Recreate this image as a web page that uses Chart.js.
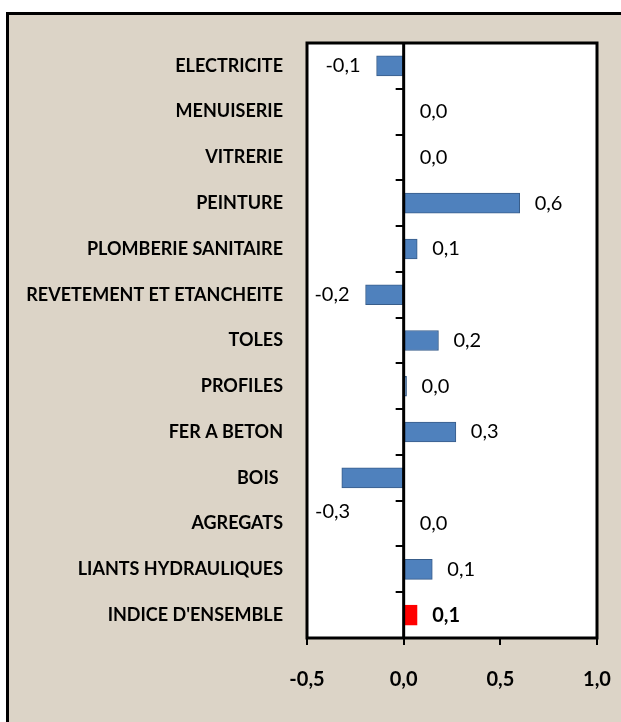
<!DOCTYPE html>
<html lang="fr">
<head>
<meta charset="UTF-8">
<title>Variation des prix des matériaux de construction</title>
<script src="https://cdn.jsdelivr.net/npm/chart.js"></script>
<style>
    body {
        margin: 0;
        background: #fff;
        overflow: hidden;
    }
    /* cadre beige du graphique, coupé à droite et en bas */
    .frame {
        position: absolute;
        left: 6px;
        top: 12px;
        width: 700px;
        height: 800px;
        border: 3px solid #000;
        background: #dcd4c7;
    }
    #wrap {
        position: absolute;
        left: 0;
        top: 0;
        width: 621px;
        height: 722px;
    }
</style>
</head>
<body>
<div class="frame"></div>
<div id="wrap"><canvas id="chart" width="621" height="722"></canvas></div>

<script>
// Données
const categories = [
    'ELECTRICITE', 'MENUISERIE', 'VITRERIE', 'PEINTURE', 'PLOMBERIE SANITAIRE',
    'REVETEMENT ET ETANCHEITE', 'TOLES', 'PROFILES', 'FER A BETON', 'BOIS ',
    'AGREGATS', 'LIANTS HYDRAULIQUES', "INDICE D'ENSEMBLE"
];
const variations = [-0.14, 0, 0, 0.6, 0.07, -0.197, 0.18, 0.015, 0.27, -0.32, 0, 0.148, 0.07];
const xMin = -0.5;
const xMax = 1.0;
const xStep = 0.5;

const fmt = v => v.toFixed(1).replace('.', ',');

// fond blanc + bordure noire de la zone de tracé
const plotFrame = {
    id: 'plotFrame',
    beforeDraw(chart) {
        const a = chart.chartArea, ctx = chart.ctx;
        ctx.save();
        ctx.fillStyle = '#fff';
        ctx.fillRect(a.left, a.top, a.right - a.left, a.bottom - a.top);
        ctx.restore();
    },
    afterDraw(chart) {
        const a = chart.chartArea, ctx = chart.ctx;
        ctx.save();
        ctx.strokeStyle = '#000';
        ctx.lineWidth = 3;
        ctx.strokeRect(a.left, a.top, a.right - a.left, a.bottom - a.top);
        ctx.restore();
    }
};

// axe vertical sur le zéro, avec graduations entre les catégories
const zeroAxis = {
    id: 'zeroAxis',
    afterDatasetsDraw(chart) {
        const ctx = chart.ctx, a = chart.chartArea;
        const x0 = chart.scales.x.getPixelForValue(0);
        const y = chart.scales.y;
        const half = (y.getPixelForValue(1) - y.getPixelForValue(0)) / 2;
        ctx.save();
        ctx.strokeStyle = '#000';
        ctx.lineWidth = 2;
        ctx.beginPath();
        for (let i = 1; i < categories.length; i++) {
            const py = Math.round(y.getPixelForValue(i) - half);
            ctx.moveTo(x0 - 8, py);
            ctx.lineTo(x0, py);
        }
        ctx.stroke();
        ctx.lineWidth = 3;
        ctx.beginPath();
        ctx.moveTo(x0, a.top);
        ctx.lineTo(x0, a.bottom);
        ctx.stroke();
        ctx.restore();
    }
};

// étiquettes de valeurs (extrémité extérieure des barres)
const valueLabels = {
    id: 'valueLabels',
    afterDatasetsDraw(chart) {
        const ctx = chart.ctx, area = chart.chartArea;
        const meta = chart.getDatasetMeta(0);
        const yScale = chart.scales.y;
        const step = yScale.getPixelForValue(1) - yScale.getPixelForValue(0);
        ctx.save();
        ctx.fillStyle = '#000';
        ctx.textBaseline = 'middle';
        meta.data.forEach((bar, i) => {
            const v = variations[i];
            const txt = fmt(v);
            const last = i === variations.length - 1;
            ctx.font = (last ? 'bold ' : '') + '20px Lato';
            let x = bar.x, y = bar.y;
            if (v >= 0) {
                ctx.textAlign = 'left';
                x = Math.max(x, bar.base + 1) + 15;
            } else {
                ctx.textAlign = 'right';
                x -= 16;
                // pas assez de place : sous la barre
                if (x - ctx.measureText(txt).width < area.left) {
                    ctx.textAlign = 'left';
                    x = area.left + 8;
                    y += step * 0.74;
                }
            }
            ctx.fillText(txt, x, y);
        });
        ctx.restore();
    }
};

function drawChart() {
    Chart.defaults.color = '#000';
    Chart.defaults.font.family = 'Lato';

    new Chart(document.getElementById('chart'), {
        type: 'bar',
        data: {
            labels: categories,
            datasets: [{
                data: variations,
                backgroundColor: categories.map((c, i) => i === categories.length - 1 ? '#ff0000' : '#4f81bd'),
                borderColor: categories.map((c, i) => i === categories.length - 1 ? '#ff0000' : '#385d8a'),
                borderWidth: 1,
                borderSkipped: false,
                barThickness: 20
            }]
        },
        options: {
            indexAxis: 'y',
            responsive: false,
            animation: false,
            layout: { padding: { top: 43, right: 24, left: 0, bottom: 0 } },
            plugins: {
                legend: { display: false },
                tooltip: { enabled: false }
            },
            scales: {
                x: {
                    type: 'linear',
                    position: 'bottom',
                    min: xMin,
                    max: xMax,
                    ticks: {
                        stepSize: xStep,
                        padding: 23,
                        font: { family: 'Lato', weight: 'bold', size: 20 },
                        callback: v => fmt(v)
                    },
                    grid: { drawOnChartArea: false, color: '#000', lineWidth: 2, tickLength: 7 },
                    border: { display: false },
                    afterFit: s => {
                        s.height = 84;
                        s.paddingRight = 0; // le libellé "1,0" déborde, comme l'original
                    }
                },
                y: {
                    type: 'category',
                    position: 'left',
                    grid: { display: false, drawTicks: false },
                    border: { display: false },
                    ticks: {
                        autoSkip: false,
                        padding: 24,
                        font: { family: 'Lato', weight: 'bold', size: 18 }
                    },
                    afterFit: s => { s.width = 307; }
                }
            }
        },
        plugins: [plotFrame, zeroAxis, valueLabels]
    });
}

document.fonts.load('bold 18px Lato').then(drawChart, drawChart);
</script>
</body>
</html>
